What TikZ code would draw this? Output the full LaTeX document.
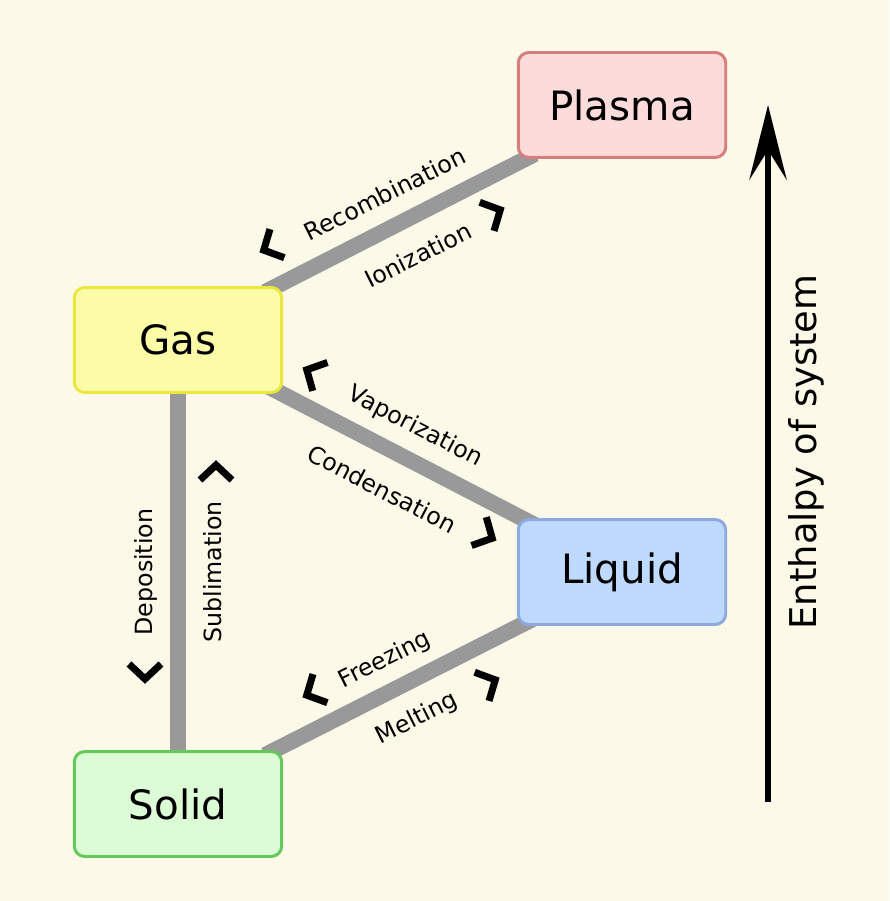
\documentclass[tikz,border=0pt]{standalone}
\usepackage{fontspec}
\setmainfont{DejaVu Sans}
\usetikzlibrary{arrows.meta,backgrounds}
\definecolor{bg}{HTML}{FDF9E8}
\definecolor{conn}{HTML}{999999}
\tikzset{
  st/.style={draw, line width=1.7pt, rounded corners=6pt, minimum width=4.15cm, minimum height=2.1cm, font=\fontsize{23}{27}\selectfont},
  link/.style={conn, line width=9pt},
  lab/.style={font=\fontsize{13.5}{16}\selectfont, inner sep=0pt},
  chevl/.style={line width=4pt, line join=miter, miter limit=10}
}
\newcommand{\chevL}[3]{\begin{scope}[shift={(#1,#2)},rotate=#3]\draw[chevl] (8,-16)--(-7,0)--(8,16);\end{scope}}
\newcommand{\chevR}[3]{\begin{scope}[shift={(#1,#2)},rotate=#3]\draw[chevl] (-8,-16)--(7,0)--(-8,16);\end{scope}}
\begin{document}
\begin{tikzpicture}[x=0.02cm,y=-0.02cm]
\useasboundingbox (0,0) rectangle (889,901);
\node[st, draw={rgb,255:red,214;green,125;blue,125}, fill={rgb,255:red,252;green,219;blue,219}] (plasma) at (622,105) {Plasma};
\node[st, draw={rgb,255:red,232;green,232;blue,64}, fill={rgb,255:red,252;green,252;blue,168}] (gas) at (178,340) {Gas};
\node[st, draw={rgb,255:red,140;green,170;blue,222}, fill={rgb,255:red,190;green,218;blue,255}] (liquid) at (622,572) {Liquid};
\node[st, draw={rgb,255:red,100;green,200;blue,90}, fill={rgb,255:red,220;green,252;blue,214}] (solid) at (178,804) {Solid};
\begin{scope}[on background layer]
\fill[bg] (0,0) rectangle (889,901);
\coordinate (gp1) at (265,292); \coordinate (gp2) at (535,154);
\coordinate (gl1) at (265,385); \coordinate (gl2) at (535,525);
\coordinate (sl1) at (265,755); \coordinate (sl2) at (535,618);
\draw[link] (gp1)--(gp2);
\draw[link] (gl1)--(gl2);
\draw[link] (sl1)--(sl2);
\draw[link] (gas.south)--(solid.north);
\end{scope}
% labels
\node[lab, rotate=26.6] at (385,194) {Recombination};
\node[lab, rotate=26.6] at (418,255) {Ionization};
\node[lab, rotate=-27.4] at (415,427) {Vaporization};
\node[lab, rotate=-27.4] at (382,489) {Condensation};
\node[lab, rotate=26.6] at (385,660) {Freezing};
\node[lab, rotate=26.6] at (417,719) {Melting};
\node[lab, rotate=90] at (146,572) {Deposition};
\node[lab, rotate=90] at (213,572) {Sublimation};
\chevL{270}{247}{26.6}
\chevR{494}{213}{26.6}
\chevL{313}{373}{-27.4}
\chevR{486}{535}{-27.4}
\chevL{313}{692}{26.6}
\chevR{489}{683}{26.6}
\chevL{145}{672}{90}
\chevR{216}{472}{90}
% enthalpy arrow
\coordinate (a1) at (768,802); \coordinate (a2) at (768,105);
\draw[line width=3.4pt, -{Stealth[length=1.5cm,width=0.75cm,inset=0.6cm]}] (a1)--(a2);
\node[font=\fontsize{21}{25}\selectfont, rotate=90] (enth) at (806,452) {Enthalpy of system};
\end{tikzpicture}
\end{document}
